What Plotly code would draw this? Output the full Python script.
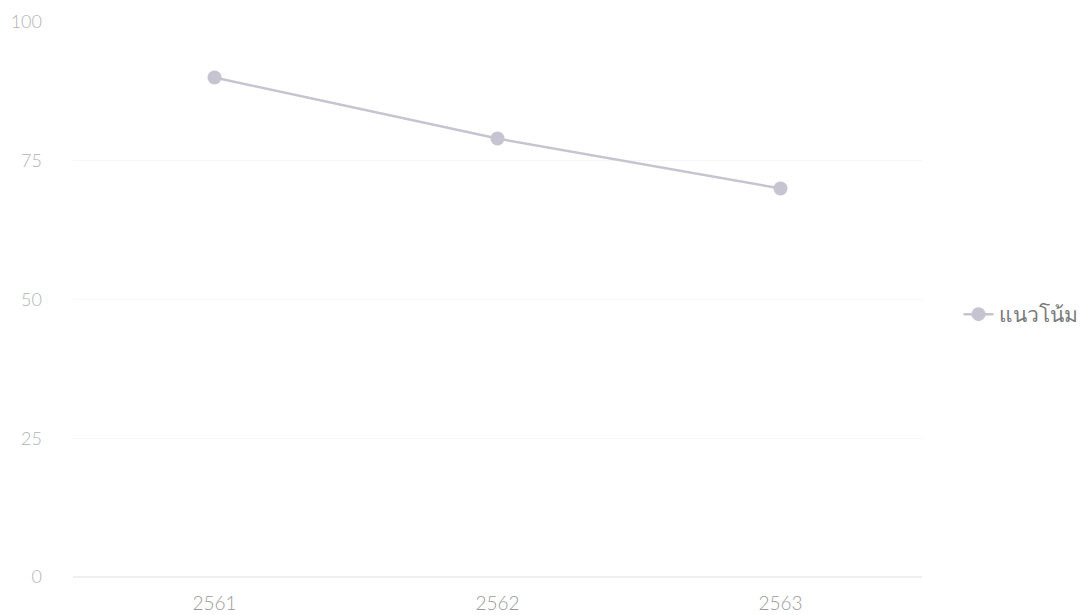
import plotly.graph_objects as go

years = ["2561", "2562", "2563"]
values = [90, 79, 70]
series_name = "แนวโน้ม"
y_ticks = [0, 25, 50, 75, 100]

fig = go.Figure()
fig.add_trace(go.Scatter(
    x=years, y=values, name=series_name, mode="lines+markers",
    line=dict(color="#c6c4d0", width=2.5),
    marker=dict(color="#c6c4d0", size=14),
))

fig.update_layout(
    width=1087, height=615,
    margin=dict(l=65, r=173, t=14, b=46),
    paper_bgcolor="white", plot_bgcolor="white",
    font=dict(family="Lato, Noto Sans, sans-serif", color="#a9a9a9", size=18, weight=300),
    showlegend=True,
    legend=dict(x=1.043, y=0.473, xanchor="left", yanchor="middle",
                font=dict(size=21, color="#7a7a7a", weight=300)),
    xaxis=dict(type="category", range=[-0.5, 2.5], showgrid=False,
               showline=False, zeroline=False, ticks="", automargin=False,
               tickfont=dict(size=19, color="#9a9a9a", weight=300), ticklabelstandoff=13),
    yaxis=dict(range=[0, 100], tickvals=y_ticks, showgrid=True, automargin=False,
               gridcolor="#f7f7f7", zeroline=True, zerolinecolor="#efefef",
               zerolinewidth=1.5, showline=False, ticks="",
               tickfont=dict(size=18, color="#b3b3b3", weight=300), ticklabelstandoff=30),
)

fig.write_html("out.html")
